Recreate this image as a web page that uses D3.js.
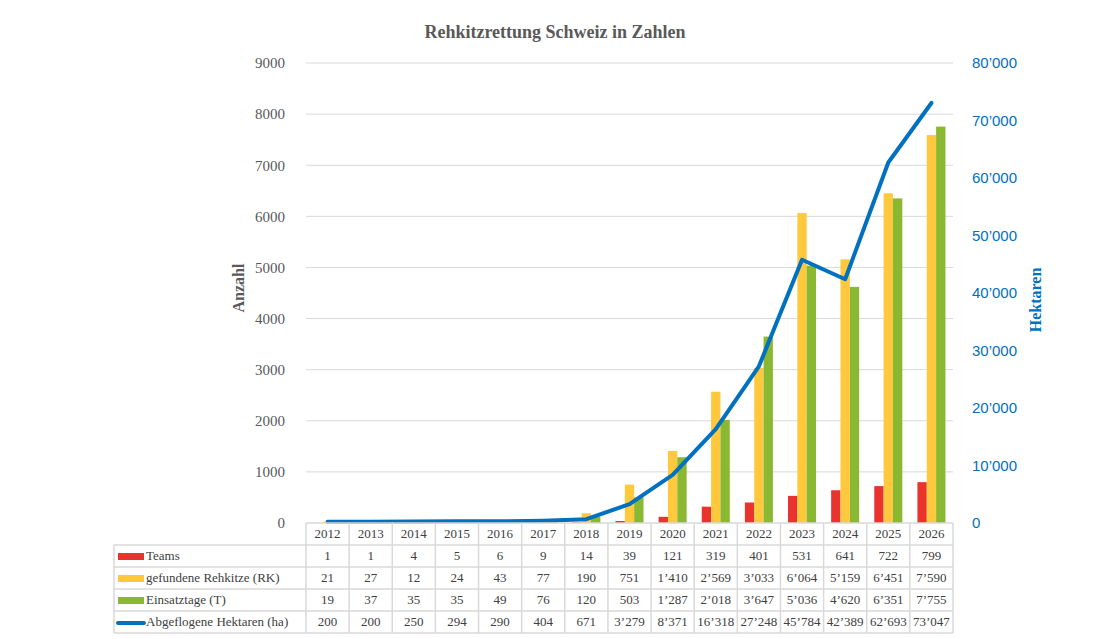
<!DOCTYPE html>
<html>
<head>
<meta charset="utf-8">
<script src="https://cdn.jsdelivr.net/npm/d3@7/dist/d3.min.js"></script>
<style>
  body { margin: 0; background: #fff; }
  svg { display: block; }
  svg text { font-family: "Liberation Serif", "Times New Roman", serif; }
</style>
</head>
<body>
<div id="chart"></div>
<script>
// Daten
const years = ["2012","2013","2014","2015","2016","2017","2018","2019","2020","2021","2022","2023","2024","2025","2026"];
const teams = [1, 1, 4, 5, 6, 9, 14, 39, 121, 319, 401, 531, 641, 722, 799];
const rehkitze = [21, 27, 12, 24, 43, 77, 190, 751, 1410, 2569, 3033, 6064, 5159, 6451, 7590];
const einsatztage = [19, 37, 35, 35, 49, 76, 120, 503, 1287, 2018, 3647, 5036, 4620, 6351, 7755];
const hektaren = [200, 200, 250, 294, 290, 404, 671, 3279, 8371, 16318, 27248, 45784, 42389, 62693, 73047];
const leftTicks = [0, 1000, 2000, 3000, 4000, 5000, 6000, 7000, 8000, 9000];
const rightTicks = [0, 10000, 20000, 30000, 40000, 50000, 60000, 70000, 80000];

const barSeries = [
  { name: "Teams", values: teams, color: "#e8332f" },
  { name: "gefundene Rehkitze (RK)", values: rehkitze, color: "#ffc83d" },
  { name: "Einsatztage (T)", values: einsatztage, color: "#8ab833" }
];
const lineColor = "#0070c0";
const serif = "'Liberation Serif', 'Times New Roman', serif";
const sans = "'Liberation Sans', Arial, sans-serif";

const W = 1110, H = 639;
const plot = { left: 306, right: 953, top: 63, bottom: 523 };

// Zahlenformat mit Apostroph als Tausendertrennzeichen
const fmt = d => String(d).replace(/\B(?=(\d{3})+(?!\d))/g, "\u2019");

const svg = d3.select("#chart").append("svg")
  .attr("width", W).attr("height", H);

const x = d3.scaleBand().domain(years).range([plot.left, plot.right]);
const yL = d3.scaleLinear().domain([0, 9000]).range([plot.bottom, plot.top]);
const yR = d3.scaleLinear().domain([0, 80000]).range([plot.bottom, plot.top]);

const groupW = x.bandwidth() * 0.65;
const xs = d3.scaleBand().domain(d3.range(barSeries.length)).range([0, groupW]);

// Titel
svg.append("text")
  .attr("x", 555).attr("y", 38)
  .attr("text-anchor", "middle")
  .attr("font-family", serif)
  .style("font-size", "18px").style("font-weight", "bold")
  .style("fill", "#595959")
  .text("Rehkitzrettung Schweiz in Zahlen");

// Gitterlinien
svg.append("g").selectAll("line")
  .data(leftTicks.filter(d => d > 0))
  .join("line")
  .attr("x1", plot.left).attr("x2", plot.right)
  .attr("y1", d => yL(d)).attr("y2", d => yL(d))
  .attr("stroke", "#d9d9d9").attr("stroke-width", 1);

// Linke Achse
const axL = svg.append("g")
  .attr("transform", `translate(${plot.left - 18},0)`)
  .call(d3.axisLeft(yL).tickValues(leftTicks).tickSize(0).tickFormat(d => d));
axL.attr("font-family", serif).attr("font-size", 15);
axL.select(".domain").remove();
axL.selectAll("text")
  .style("font-family", serif)
  .style("font-size", "15px").style("fill", "#595959");

// Rechte Achse
const axR = svg.append("g")
  .attr("transform", `translate(${plot.right + 16},0)`)
  .call(d3.axisRight(yR).tickValues(rightTicks).tickSize(0).tickFormat(fmt));
axR.attr("font-family", sans).attr("font-size", 15);
axR.select(".domain").remove();
axR.selectAll("text")
  .style("font-family", sans)
  .style("font-size", "15px").style("fill", lineColor);

// Achsentitel
svg.append("text")
  .attr("transform", "translate(244,288) rotate(-90)")
  .attr("text-anchor", "middle")
  .attr("font-family", serif)
  .style("font-size", "16px").style("font-weight", "bold")
  .style("fill", "#595959")
  .text("Anzahl");

svg.append("text")
  .attr("transform", "translate(1041,300) rotate(-90)")
  .attr("text-anchor", "middle")
  .attr("font-family", serif)
  .style("font-size", "16px").style("font-weight", "bold")
  .style("fill", lineColor)
  .text("Hektaren");

// Balken
const bars = svg.append("g");
barSeries.forEach((s, si) => {
  bars.append("g").selectAll("rect")
    .data(years.map((yr, i) => ({ yr, v: s.values[i] })))
    .join("rect")
    .attr("x", d => x(d.yr) + (x.bandwidth() - groupW) / 2 + xs(si))
    .attr("width", xs.bandwidth())
    .attr("y", d => yL(d.v))
    .attr("height", d => plot.bottom - yL(d.v))
    .attr("fill", s.color);
});

// Linie
const line = d3.line()
  .x((d, i) => x(years[i]) + x.bandwidth() / 2)
  .y(d => yR(d));
svg.append("path")
  .datum(hektaren)
  .attr("d", line)
  .attr("fill", "none")
  .attr("stroke", lineColor)
  .attr("stroke-width", 4)
  .attr("stroke-linejoin", "round")
  .attr("stroke-linecap", "round");

// Datentabelle
const rowH = 22;
const tableTop = plot.bottom;
const tableLeft = 114;
const rows = barSeries.map(s => ({ name: s.name, values: s.values, color: s.color, type: "bar" }))
  .concat([{ name: "Abgeflogene Hektaren (ha)", values: hektaren, color: lineColor, type: "line" }]);

const table = svg.append("g").attr("font-family", serif);
const gridColor = "#d9d9d9";

// Kopfzeile (Jahre)
table.selectAll("text.year")
  .data(years)
  .join("text")
  .attr("class", "year")
  .attr("x", d => x(d) + x.bandwidth() / 2)
  .attr("y", tableTop + rowH / 2 + 1)
  .attr("text-anchor", "middle")
  .attr("dominant-baseline", "middle")
  .style("font-size", "13px").style("fill", "#404040")
  .text(d => d);

rows.forEach((r, ri) => {
  const yTop = tableTop + rowH * (ri + 1);
  const yMid = yTop + rowH / 2 + 1;
  if (r.type === "bar") {
    table.append("rect")
      .attr("x", 118).attr("y", yMid - 4)
      .attr("width", 26).attr("height", 7)
      .attr("fill", r.color);
  } else {
    table.append("line")
      .attr("x1", 118).attr("x2", 144)
      .attr("y1", yMid).attr("y2", yMid)
      .attr("stroke", r.color).attr("stroke-width", 4)
      .attr("stroke-linecap", "round");
  }
  table.append("text")
    .attr("x", 146).attr("y", yMid)
    .attr("dominant-baseline", "middle")
    .style("font-size", "13px").style("fill", "#404040")
    .text(r.name);
  table.selectAll(null)
    .data(r.values)
    .join("text")
    .attr("x", (d, i) => x(years[i]) + x.bandwidth() / 2)
    .attr("y", yMid)
    .attr("text-anchor", "middle")
    .attr("dominant-baseline", "middle")
    .style("font-size", "13px").style("fill", "#404040")
    .text(d => fmt(d));
});

// Tabellenlinien
const tableBottom = tableTop + rowH * (rows.length + 1);
const hLines = d3.range(rows.length + 2).map(i => tableTop + rowH * i);
table.selectAll("line.h")
  .data(hLines)
  .join("line")
  .attr("class", "h")
  .attr("x1", (d, i) => i === 0 ? plot.left : tableLeft)
  .attr("x2", plot.right)
  .attr("y1", d => d).attr("y2", d => d)
  .attr("stroke", gridColor).attr("stroke-width", 1.5);

table.selectAll("line.v")
  .data(years.concat(["end"]))
  .join("line")
  .attr("class", "v")
  .attr("x1", d => d === "end" ? plot.right : x(d))
  .attr("x2", d => d === "end" ? plot.right : x(d))
  .attr("y1", tableTop).attr("y2", tableBottom)
  .attr("stroke", gridColor).attr("stroke-width", 1.5);

table.append("line")
  .attr("x1", tableLeft).attr("x2", tableLeft)
  .attr("y1", tableTop + rowH).attr("y2", tableBottom)
  .attr("stroke", gridColor).attr("stroke-width", 1.5);
</script>
</body>
</html>
